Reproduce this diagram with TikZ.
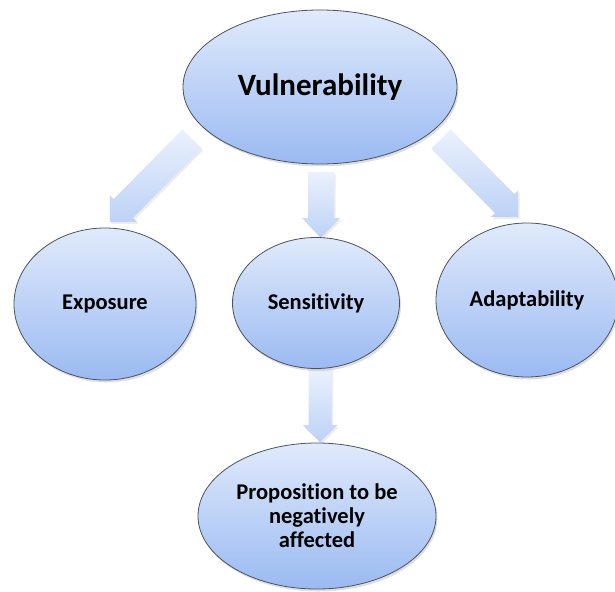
\documentclass[tikz,border=0pt]{standalone}
\usepackage{fontspec}
\setmainfont{Carlito}[Ligatures=NoCommon]
\usetikzlibrary{calc,shadows,shapes.geometric}
\definecolor{eltop}{HTML}{E0EAFB}
\definecolor{elbot}{HTML}{9BBAF2}
\definecolor{elline}{HTML}{4A5262}
\definecolor{artail}{HTML}{EBF1FD}
\definecolor{arhead}{HTML}{BDD2F6}
\begin{document}
\begin{tikzpicture}[x=1pt,y=-1pt,
  bubble/.style={ellipse,draw=elline,line width=0.8pt,top color=eltop,bottom color=elbot,
    inner sep=0pt,align=center,font=\bfseries\fontsize{22.5}{24}\selectfont,
    drop shadow={opacity=0.25,shadow xshift=1.5pt,shadow yshift=-2.5pt}},
  blockarrow/.style={draw=none,top color=artail,bottom color=arhead,
    drop shadow={opacity=0.15,shadow xshift=1.5pt,shadow yshift=-2pt},
    to path={
      ($(\tikztostart)!\aw!90:(\tikztotarget)$)
      -- ($($(\tikztotarget)!\ah!(\tikztostart)$)!\aw!-90:(\tikztostart)$)
      -- ($($(\tikztotarget)!\ah!(\tikztostart)$)!\aW!-90:(\tikztostart)$)
      -- (\tikztotarget)
      -- ($($(\tikztotarget)!\ah!(\tikztostart)$)!\aW!90:(\tikztostart)$)
      -- ($($(\tikztotarget)!\ah!(\tikztostart)$)!\aw!90:(\tikztostart)$)
      -- ($(\tikztostart)!\aw!-90:(\tikztotarget)$) -- cycle}},
  aw/.code={\def\aw{#1}}, aW/.code={\def\aW{#1}}, ah/.code={\def\ah{#1}}
]
\useasboundingbox (0,0) rectangle (615,591);

% arrow end points
\coordinate (t1) at (192,139);
\coordinate (p1) at (110,222);
\coordinate (t2) at (321,172);
\coordinate (p2) at (321,238);
\coordinate (t3) at (441,139);
\coordinate (p3) at (518,217);
\coordinate (t4) at (320,368);
\coordinate (p4) at (320,442);

\path[blockarrow,aw=13.5pt,aW=19pt,ah=19pt] (t1) to (p1);
\path[blockarrow,aw=13pt,aW=19pt,ah=20pt] (t2) to (p2);
\path[blockarrow,aw=13.5pt,aW=19pt,ah=19pt] (t3) to (p3);
\path[blockarrow,aw=11.5pt,aW=17.5pt,ah=17pt] (t4) to (p4);

\node[bubble,minimum width=274pt,minimum height=154pt,font=\bfseries\fontsize{31}{34}\selectfont] (vul) at (320,87) {Vulnerability};
\node[bubble,minimum width=182pt,minimum height=152pt] (exp) at (105,304) {Exposure};
\node[bubble,minimum width=167pt,minimum height=131pt] (sen) at (316,303) {Sensitivity};
\node[bubble,minimum width=182pt,minimum height=154pt] (ada) at (527,300) {Adaptability};
\node[bubble,minimum width=238pt,minimum height=146pt] (pro) at (317,516) {Proposition to be\\negatively\\affected};
\end{tikzpicture}
\end{document}
